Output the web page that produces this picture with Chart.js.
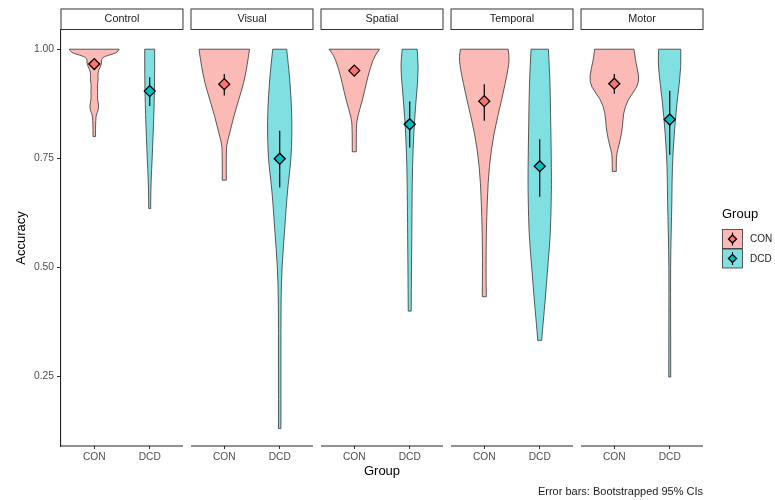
<!DOCTYPE html>
<html>
<head>
<meta charset="utf-8">
<script src="https://cdn.jsdelivr.net/npm/chart.js@4.4.1/dist/chart.umd.min.js"></script>
<style>
  html, body { margin: 0; padding: 0; background: #fff; }
  #wrap { width: 775px; height: 500px; }
</style>
</head>
<body>
<div id="wrap"><canvas id="violinChart" width="775" height="500"></canvas></div>
<script>
/* facetted violins: accuracy by group, one panel per condition */

const panels = ['Control', 'Visual', 'Spatial', 'Temporal', 'Motor'];
const groups = ['CON', 'DCD'];
const yTicks = [0.25, 0.50, 0.75, 1.00];

// bootstrapped means and 95% CIs, one value per panel
const meanCON = [0.966, 0.920, 0.951, 0.881, 0.921];
const ciLoCON = [0.957, 0.894, 0.945, 0.836, 0.898];
const ciHiCON = [0.975, 0.943, 0.957, 0.920, 0.943];
const meanDCD = [0.904, 0.749, 0.828, 0.732, 0.839];
const ciLoDCD = [0.870, 0.683, 0.775, 0.662, 0.758];
const ciHiDCD = [0.936, 0.813, 0.880, 0.794, 0.905];

// violin outlines: [accuracy, half width in category units], top to bottom
const vCONControl = [[1.00,0.45],[0.995,0.43],[0.99,0.37],[0.983,0.16],[0.975,0.125],[0.966,0.135],[0.953,0.08],[0.94,0.063],[0.93,0.072],[0.918,0.054],[0.90,0.063],[0.888,0.054],[0.872,0.081],[0.86,0.072],[0.85,0.036],[0.838,0.027],[0.815,0.022],[0.80,0.022]];
const vDCDControl = [[1.00,0.09],[0.95,0.09],[0.90,0.085],[0.85,0.075],[0.80,0.06],[0.75,0.045],[0.70,0.025],[0.65,0.018],[0.635,0.018]];
const vCONVisual = [[1.00,0.456],[0.96,0.41],[0.922,0.35],[0.884,0.26],[0.845,0.17],[0.807,0.096],[0.784,0.049],[0.769,0.036],[0.70,0.036]];
const vDCDVisual = [[1.00,0.126],[0.96,0.16],[0.923,0.186],[0.865,0.215],[0.808,0.222],[0.746,0.204],[0.70,0.16],[0.654,0.126],[0.579,0.085],[0.50,0.04],[0.425,0.023],[0.272,0.022],[0.131,0.022]];
const vCONSpatial = [[1.00,0.456],[0.987,0.375],[0.96,0.294],[0.922,0.216],[0.884,0.15],[0.845,0.058],[0.823,0.036],[0.765,0.036]];
const vDCDSpatial = [[1.00,0.135],[0.96,0.166],[0.884,0.114],[0.808,0.072],[0.73,0.05],[0.654,0.042],[0.547,0.036],[0.50,0.032],[0.40,0.027]];
const vCONTemporal = [[1.00,0.43],[0.985,0.45],[0.96,0.44],[0.884,0.315],[0.808,0.171],[0.731,0.086],[0.654,0.054],[0.579,0.036],[0.50,0.031],[0.433,0.036]];
const vDCDTemporal = [[1.00,0.157],[0.96,0.171],[0.923,0.186],[0.808,0.202],[0.70,0.213],[0.654,0.207],[0.579,0.195],[0.50,0.144],[0.425,0.099],[0.35,0.045],[0.333,0.036]];
const vCONMotor = [[1.00,0.355],[0.975,0.378],[0.937,0.45],[0.914,0.42],[0.884,0.24],[0.853,0.162],[0.822,0.15],[0.792,0.108],[0.769,0.06],[0.754,0.036],[0.72,0.036]];
const vDCDMotor = [[1.00,0.2],[0.96,0.21],[0.884,0.135],[0.808,0.081],[0.731,0.045],[0.654,0.04],[0.579,0.025],[0.50,0.015],[0.425,0.015],[0.249,0.018]];

const violinsCON = [vCONControl, vCONVisual, vCONSpatial, vCONTemporal, vCONMotor];
const violinsDCD = [vDCDControl, vDCDVisual, vDCDSpatial, vDCDTemporal, vDCDMotor];

const FILL_CON = 'rgba(248,118,109,0.5)';
const FILL_DCD = 'rgba(0,191,196,0.5)';
const PT_CON = '#F8766D';
const PT_DCD = '#00BFC4';
const FONT = '"Liberation Sans", Arial, sans-serif';

// each facet spans 2.2 units (0.6 expansion each side), small gap between
const PANEL_W = 2.2;
const PANEL_GAP = 0.145;
const STEP = PANEL_W + PANEL_GAP;
const X_MAX = panels.length * STEP - PANEL_GAP;
function panelLeft(i) { return i * STEP; }
function posCON(i) { return panelLeft(i) + 0.6; }
function posDCD(i) { return panelLeft(i) + 1.6; }

const xTickVals = [];
panels.forEach((p, i) => { xTickVals.push(posCON(i), posDCD(i)); });

function ciData(pos, lo, hi) {
  const out = [];
  panels.forEach((p, i) => {
    out.push({ x: pos(i), y: lo[i] }, { x: pos(i), y: hi[i] }, { x: pos(i), y: null });
  });
  return out;
}

function tracePath(ctx, pts) {
  ctx.lineTo(pts[0][0], pts[0][1]);
  for (let i = 1; i < pts.length - 1; i++) {
    const mx = (pts[i][0] + pts[i + 1][0]) / 2, my = (pts[i][1] + pts[i + 1][1]) / 2;
    ctx.quadraticCurveTo(pts[i][0], pts[i][1], mx, my);
  }
  ctx.lineTo(pts[pts.length - 1][0], pts[pts.length - 1][1]);
}

function drawViolin(ctx, xs, ys, center, outline, fill) {
  const right = outline.map(d => [xs.getPixelForValue(center + d[1]), ys.getPixelForValue(d[0])]);
  const left = outline.map(d => [xs.getPixelForValue(center - d[1]), ys.getPixelForValue(d[0])]).reverse();
  ctx.beginPath();
  ctx.moveTo(left[left.length - 1][0], left[left.length - 1][1]);
  tracePath(ctx, right);
  tracePath(ctx, left);
  ctx.closePath();
  ctx.fillStyle = fill;
  ctx.fill();
  ctx.lineWidth = 0.8;
  ctx.strokeStyle = '#333';
  ctx.stroke();
}

function diamond(ctx, x, y, r, fill) {
  ctx.beginPath();
  ctx.moveTo(x, y - r); ctx.lineTo(x + r, y); ctx.lineTo(x, y + r); ctx.lineTo(x - r, y);
  ctx.closePath();
  ctx.fillStyle = fill; ctx.fill();
  ctx.lineWidth = 1.3; ctx.strokeStyle = '#000'; ctx.stroke();
}

const facetPlugin = {
  id: 'facets',
  beforeDatasetsDraw(chart) {
    const { ctx, scales: { x, y } } = chart;
    ctx.save();
    panels.forEach((p, i) => {
      drawViolin(ctx, x, y, posCON(i), violinsCON[i], FILL_CON);
      drawViolin(ctx, x, y, posDCD(i), violinsDCD[i], FILL_DCD);
    });
    ctx.restore();
  },
  afterDraw(chart) {
    const { ctx, chartArea, scales: { x } } = chart;
    ctx.save();
    // strips and bottom axis lines per panel
    panels.forEach((p, i) => {
      const l = x.getPixelForValue(panelLeft(i));
      const r = x.getPixelForValue(panelLeft(i) + PANEL_W);
      ctx.fillStyle = '#fff';
      ctx.strokeStyle = '#333';
      ctx.lineWidth = 1;
      ctx.fillRect(l, 9, r - l, 20.5);
      ctx.strokeRect(l, 9, r - l, 20.5);
      ctx.fillStyle = '#1a1a1a';
      ctx.font = '10.8px ' + FONT;
      ctx.textAlign = 'center';
      ctx.textBaseline = 'middle';
      ctx.fillText(p, (l + r) / 2, 19.5);
      ctx.beginPath();
      ctx.moveTo(l, chartArea.bottom);
      ctx.lineTo(r, chartArea.bottom);
      ctx.strokeStyle = '#222';
      ctx.lineWidth = 1.1;
      ctx.stroke();
    });
    // legend
    ctx.fillStyle = '#000';
    ctx.font = '13px ' + FONT;
    ctx.textAlign = 'left';
    ctx.textBaseline = 'middle';
    ctx.fillText('Group', 722, 214);
    const keys = [[FILL_CON, PT_CON, 'CON'], [FILL_DCD, PT_DCD, 'DCD']];
    keys.forEach((k, i) => {
      const top = 229.5 + i * 19.5;
      ctx.fillStyle = '#fff';
      ctx.fillRect(722.5, top, 20, 19);
      ctx.fillStyle = k[0];
      ctx.fillRect(722.5, top, 20, 19);
      ctx.strokeStyle = '#333';
      ctx.lineWidth = 0.8;
      ctx.strokeRect(722.5, top, 20, 19);
      ctx.beginPath();
      ctx.moveTo(732.5, top + 3); ctx.lineTo(732.5, top + 16);
      ctx.strokeStyle = '#000'; ctx.lineWidth = 1.1; ctx.stroke();
      diamond(ctx, 732.5, top + 9.5, 4, k[1]);
      ctx.fillStyle = '#1a1a1a';
      ctx.font = '10px ' + FONT;
      ctx.fillText(k[2], 750, top + 10);
    });
    // caption
    ctx.fillStyle = '#1a1a1a';
    ctx.font = '11px ' + FONT;
    ctx.textAlign = 'right';
    ctx.fillText('Error bars: Bootstrapped 95% CIs', x.getPixelForValue(X_MAX), 491.5);
    ctx.restore();
  }
};

new Chart(document.getElementById('violinChart').getContext('2d'), {
  type: 'scatter',
  data: {
    datasets: [
      {
        label: 'CON',
        data: panels.map((p, i) => ({ x: posCON(i), y: meanCON[i] })),
        pointStyle: 'rectRot', pointRadius: 5.5, pointBackgroundColor: PT_CON,
        pointBorderColor: '#000', pointBorderWidth: 1.3
      },
      {
        label: 'DCD',
        data: panels.map((p, i) => ({ x: posDCD(i), y: meanDCD[i] })),
        pointStyle: 'rectRot', pointRadius: 5.5, pointBackgroundColor: PT_DCD,
        pointBorderColor: '#000', pointBorderWidth: 1.3
      },
      {
        label: 'CON CI', data: ciData(posCON, ciLoCON, ciHiCON),
        showLine: true, spanGaps: false, pointRadius: 0, borderColor: '#000', borderWidth: 1.2
      },
      {
        label: 'DCD CI', data: ciData(posDCD, ciLoDCD, ciHiDCD),
        showLine: true, spanGaps: false, pointRadius: 0, borderColor: '#000', borderWidth: 1.2
      }
    ]
  },
  options: {
    responsive: false,
    animation: false,
    layout: { padding: { top: 30, right: 72, bottom: 0, left: 0 } },
    plugins: { legend: { display: false }, tooltip: { enabled: false } },
    scales: {
      x: {
        type: 'linear', min: 0, max: X_MAX,
        afterBuildTicks: s => { s.ticks = xTickVals.map(v => ({ value: v })); },
        afterFit: s => { s.height = 54; },
        ticks: {
          autoSkip: false, maxRotation: 0, padding: 2,
          color: '#4d4d4d', font: { size: 10.2, family: FONT },
          callback: (v, i) => groups[i % 2]
        },
        grid: { drawOnChartArea: false, drawTicks: true, tickLength: 3, color: '#333' },
        border: { display: false },
        title: { display: true, text: 'Group', color: '#000', font: { size: 13, family: FONT }, padding: { bottom: 20.5 } }
      },
      y: {
        min: 0.091, max: 1.044,
        afterBuildTicks: s => { s.ticks = yTicks.map(v => ({ value: v })); },
        afterFit: s => { s.width = 61; },
        ticks: { color: '#4d4d4d', font: { size: 10.3, family: FONT }, padding: 3, callback: v => v.toFixed(2) },
        grid: { drawOnChartArea: false, drawTicks: true, tickLength: 4, color: '#333' },
        border: { display: true, color: '#222', width: 1.1 },
        title: { display: true, text: 'Accuracy', color: '#000', font: { size: 13, family: FONT }, padding: { top: 14 } }
      }
    }
  },
  plugins: [facetPlugin]
});
</script>
</body>
</html>
